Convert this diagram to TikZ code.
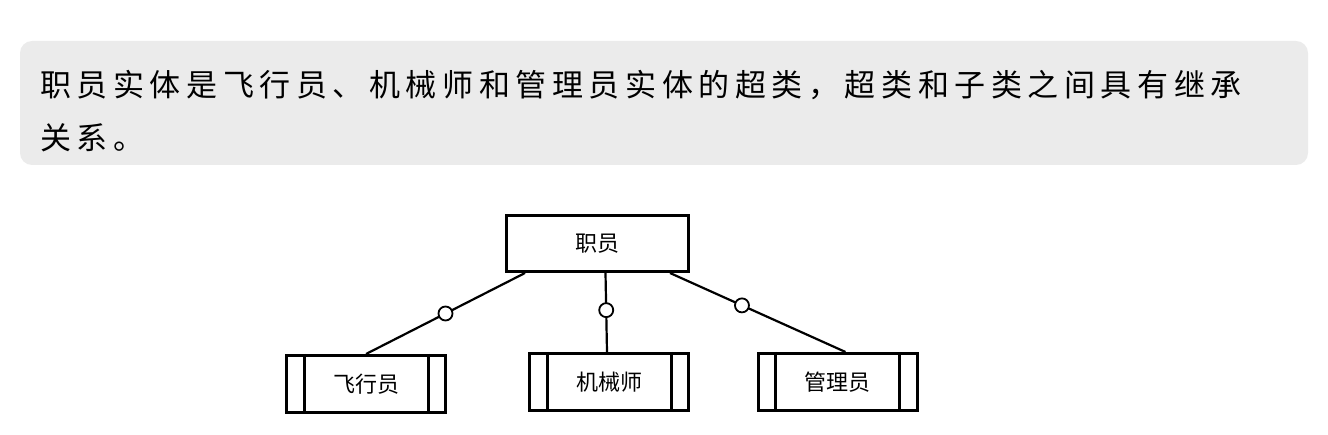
\documentclass[tikz,border=0pt]{standalone}
\usepackage{fontspec}
\newfontfamily\cjk{Noto Sans CJK SC}
\newfontfamily\cjkspaced[LetterSpace=18]{Noto Sans CJK SC}
\tikzset{
  entity/.style={draw,line width=3pt,minimum width=182pt,minimum height=56pt,inner sep=0pt,font=\cjk\fontsize{22}{22}\selectfont},
  subentity/.style={entity,minimum width=159pt,minimum height=57pt},
  link/.style={line width=2.2pt},
  opt/.style={draw,circle,fill=white,line width=1.8pt,minimum size=14pt,inner sep=0pt}
}
\begin{document}
\begin{tikzpicture}[x=1pt,y=1pt]
        \useasboundingbox (0,0) rectangle (1328,-435);
        \fill[gray!16,rounded corners=12pt] (20,-41) rectangle (1308,-165);
        \node[anchor=west,inner sep=0pt,font=\cjkspaced\fontsize{31}{31}\selectfont](l1)at(40,-85) {职员实体是飞行员、机械师和管理员实体的超类，超类和子类之间具有继承};
        \node[anchor=west,inner sep=0pt,font=\cjkspaced\fontsize{31}{31}\selectfont](l2)at(40,-138) {关系。};
        
        \node[entity](0)at(597.5,-243.5) {职员};
        \node[subentity](1)at(366,-384) {飞行员};
        \node[subentity](2)at(609,-382) {机械师};
        \node[subentity](3)at(837.5,-382) {管理员};
        \foreach \n in {1,2,3}{
            \draw[line width=3pt]([xshift=19pt]\n.north west) -- ([xshift=19pt]\n.south west);
            \draw[line width=3pt]([xshift=-19pt]\n.north east) -- ([xshift=-19pt]\n.south east);
        }
        
        \draw[link]([xshift=20pt]0.south west) --node[opt,pos=0.5]{} (1.north);
        \draw[link]([xshift=8pt]0.south) --node[opt,pos=0.47]{} ([xshift=-2pt]2.north);
        \draw[link]([xshift=-20pt]0.south east) --node[opt,pos=0.41]{} ([xshift=8pt]3.north);
    \end{tikzpicture}
\end{document}
